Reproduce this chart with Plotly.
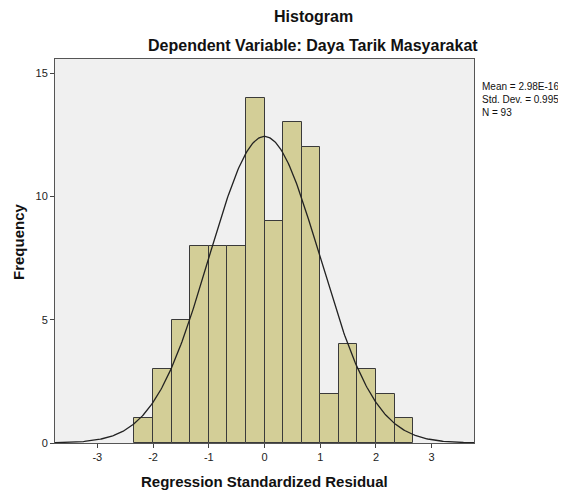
import numpy as np
import plotly.graph_objects as go

bin_left = [-7/3, -2, -5/3, -4/3, -1, -2/3, -1/3, 0, 1/3, 2/3, 1, 4/3, 5/3, 2, 7/3]
counts = [1, 3, 5, 8, 8, 8, 14, 9, 13, 12, 2, 4, 3, 2, 1]
bin_width = 1/3
mean = 2.98e-16
std = 0.995
n = 93
x_ticks = [-3, -2, -1, 0, 1, 2, 3]
x_ticklabels = ["-3", "-2", "-1", "0", "1", "2", "3"]
y_ticks = [0, 5, 10, 15]
y_ticklabels = ["0", "5", "10", "15"]

centers = [b + bin_width/2 for b in bin_left]
xs = np.linspace(-3.76, 3.76, 400)
ys = n * bin_width / (std * np.sqrt(2*np.pi)) * np.exp(-0.5*((xs-mean)/std)**2)

FONT = "Liberation Sans, Arial, sans-serif"
OFF = 8  # page body margin
W, H = 566 - OFF, 493 - OFF
L, R, T, B = 55 - OFF, 92, 59 - OFF, 50
PW = W - L - R
PH = H - T - B

fig = go.Figure()
fig.add_trace(go.Bar(x=centers, y=counts, width=bin_width,
                     marker=dict(color="#D3CE97", line=dict(color="#3a3a3a", width=1)),
                     showlegend=False, hoverinfo="skip"))
fig.add_trace(go.Scatter(x=xs, y=ys, mode="lines", line=dict(color="#222222", width=1.3),
                         showlegend=False, hoverinfo="skip"))

fig.update_layout(
    width=W, height=H,
    margin=dict(l=L, r=R, t=T, b=B),
    paper_bgcolor="white", plot_bgcolor="#F0F0F0",
    font=dict(family=FONT, color="#000000"),
    bargap=0,
    annotations=[
        dict(text="<b>Histogram</b>", xref="paper", yref="paper", x=(313-55)/PW, y=1, yshift=59-16,
             xanchor="center", yanchor="middle", showarrow=False, font=dict(size=16, color="#111")),
        dict(text="<b>Dependent Variable: Daya Tarik Masyarakat</b>", xref="paper", yref="paper",
             x=(313-55)/PW, y=1, yshift=59-45, xanchor="center", yanchor="middle", showarrow=False,
             font=dict(size=16, color="#111")),
        dict(text="<b>Regression Standardized Residual</b>", xref="paper", yref="paper",
             x=0.5, y=0, yshift=-(481-443), xanchor="center", yanchor="middle", showarrow=False,
             font=dict(size=15, color="#111")),
        dict(text="<b>Frequency</b>", xref="paper", yref="paper", textangle=-90,
             x=0, xshift=-(55-18), y=1-(242-59)/PH, xanchor="center", yanchor="middle", showarrow=False,
             font=dict(size=15, color="#111")),
        dict(text="Mean = 2.98E-16<br>Std. Dev. = 0.995<br>N = 93", xref="paper", yref="paper",
             x=1, xshift=6, y=1, yshift=-20, xanchor="left", yanchor="top", align="left",
             showarrow=False, font=dict(size=10, color="#111")),
    ],
)
fig.update_xaxes(range=[-3.76, 3.76], tickvals=x_ticks, ticktext=x_ticklabels, ticks="outside", ticklen=4,
                 tickcolor="#444", showgrid=False, zeroline=False, showline=True, linecolor="#555",
                 mirror=True, tickfont=dict(size=11, color="#222"), automargin=False)
fig.update_yaxes(range=[0, 15.57], tickvals=y_ticks, ticktext=y_ticklabels, ticks="outside", ticklen=4,
                 tickcolor="#444", showgrid=False, zeroline=False, showline=True, linecolor="#555",
                 mirror=True, tickfont=dict(size=11, color="#222"), automargin=False)
fig.write_html("out.html")
